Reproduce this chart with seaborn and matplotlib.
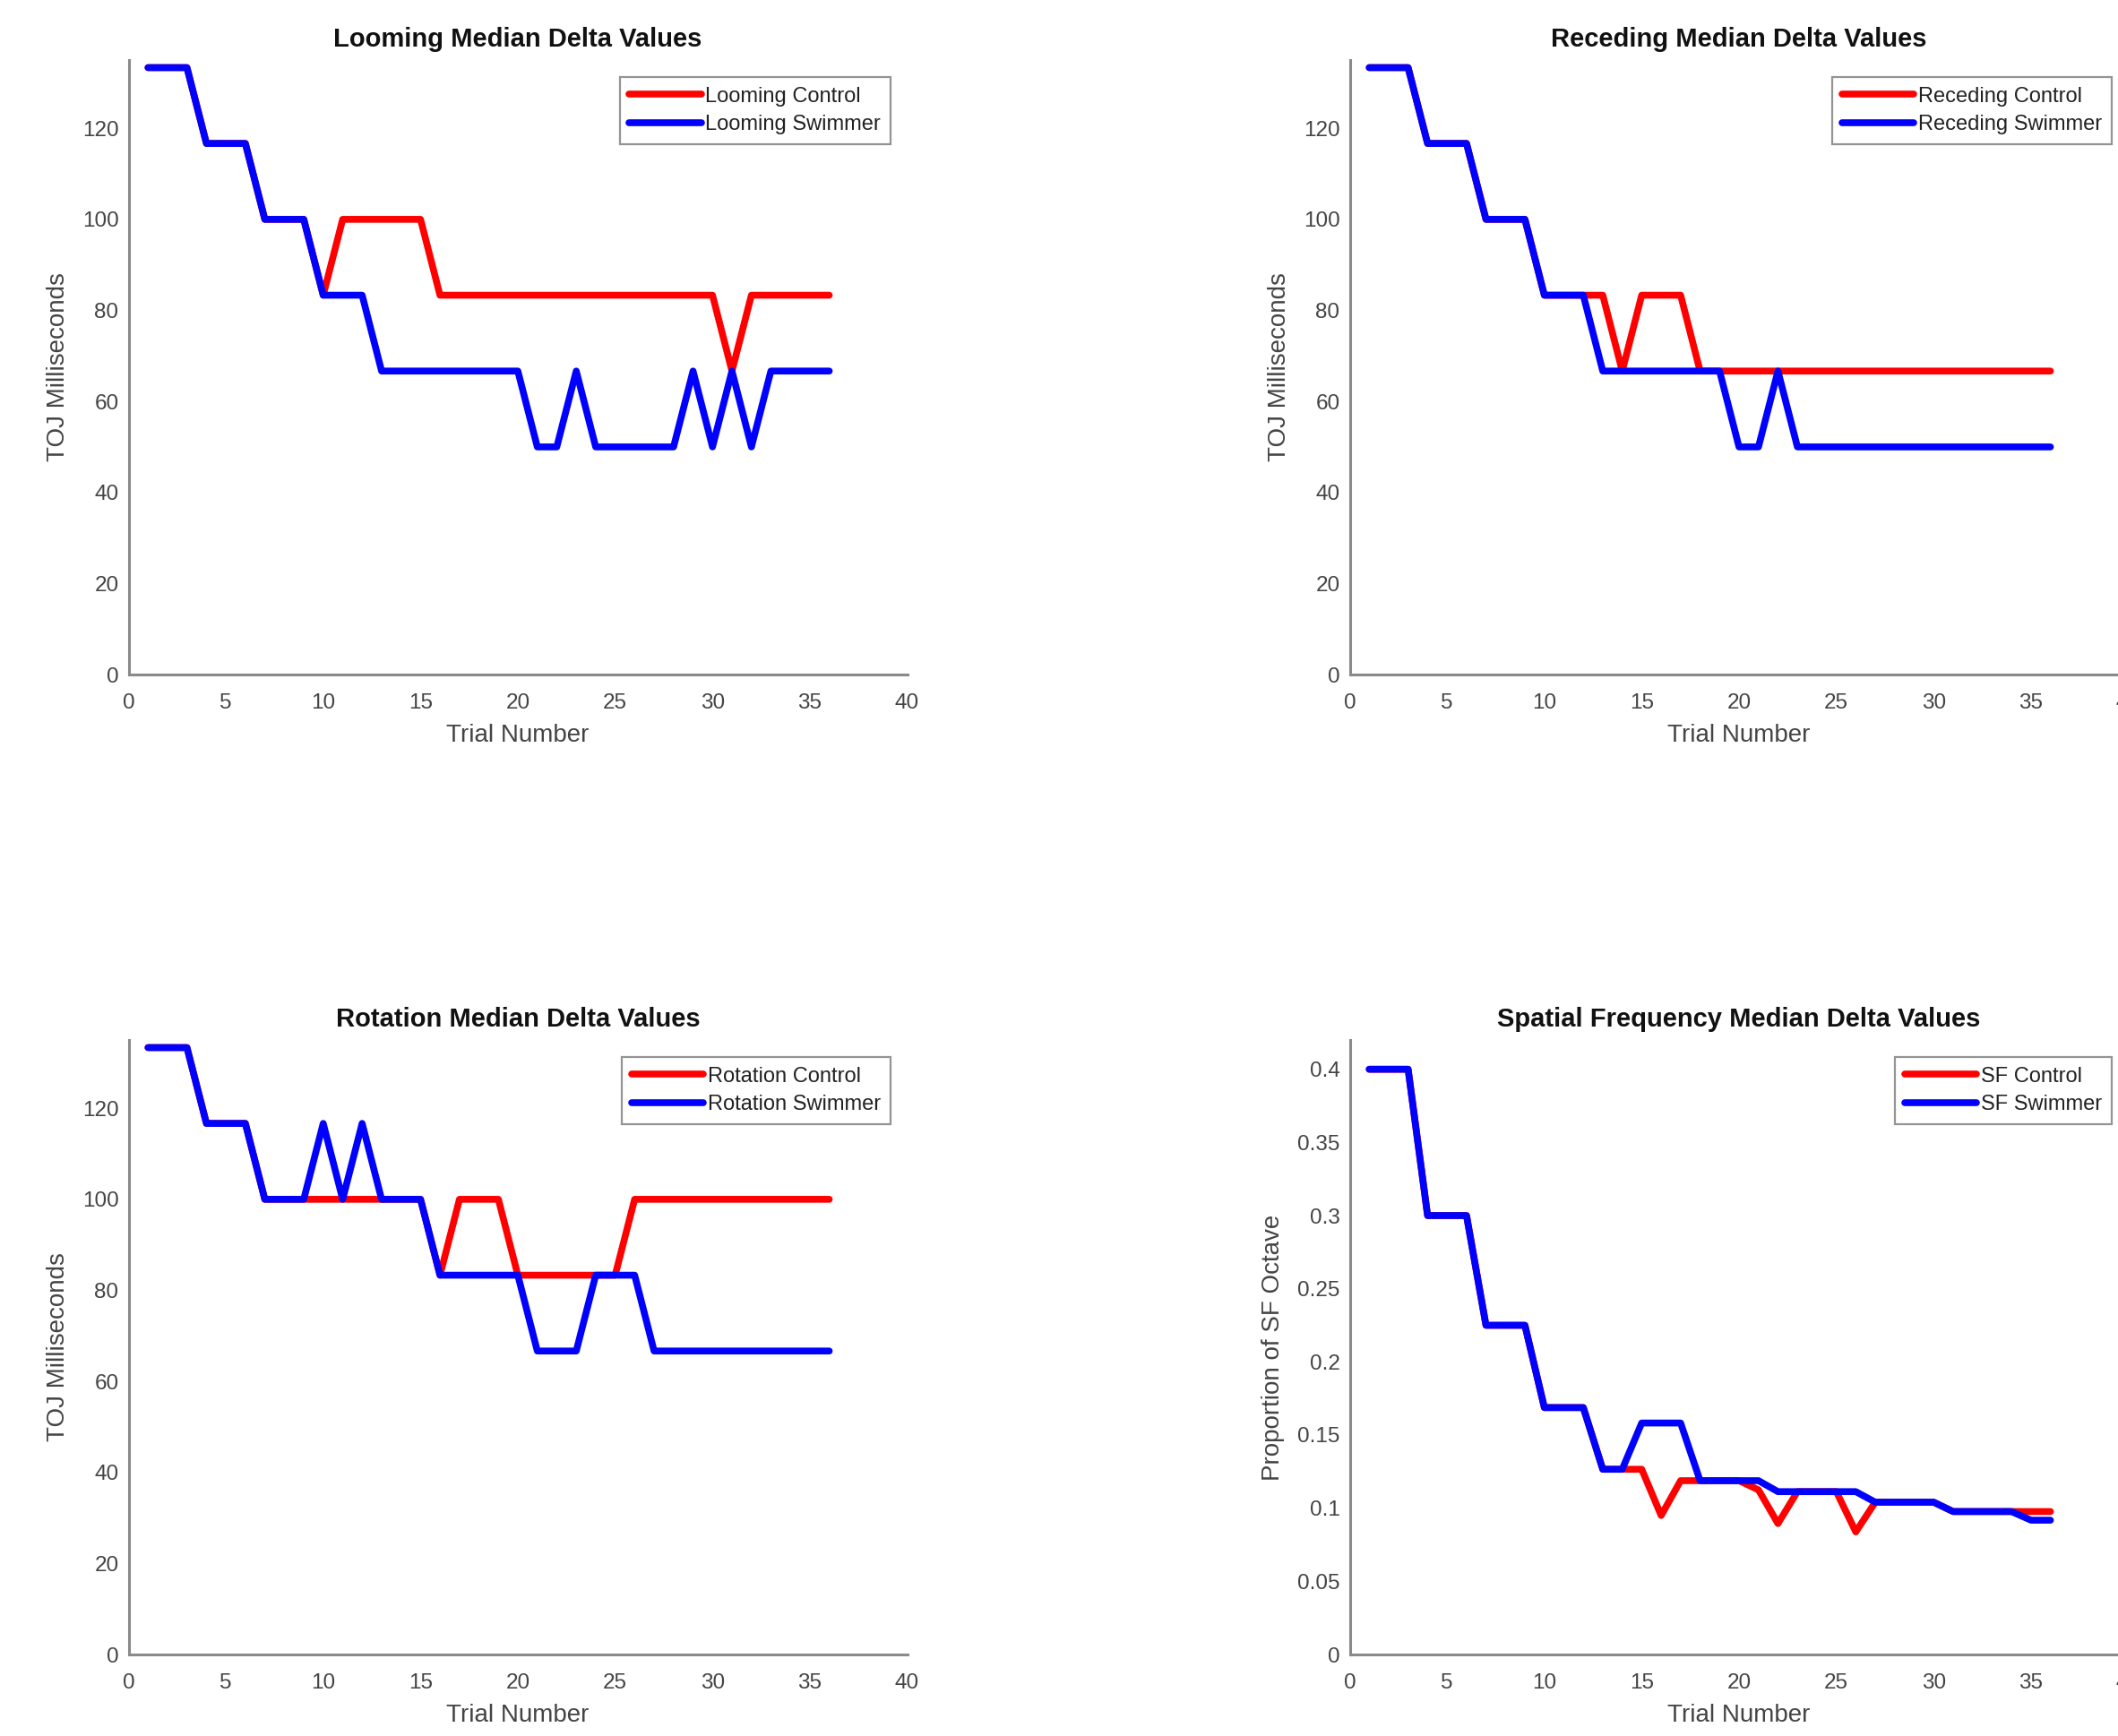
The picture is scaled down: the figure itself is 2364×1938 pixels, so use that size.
import numpy as np
import seaborn as sns
import matplotlib.pyplot as plt
from matplotlib.ticker import FormatStrFormatter

sns.set_style("white")
plt.rcParams['font.family'] = ['Liberation Sans', 'DejaVu Sans']

# trial numbers
trials = list(range(1, 37))

# TOJ values (ms)
a, b, c, d, e, f = 133.33, 116.67, 100.0, 83.33, 66.67, 50.0

looming_control = [a]*3 + [b]*3 + [c]*3 + [d] + [c]*5 + [d]*15 + [e] + [d]*5
looming_swimmer = ([a]*3 + [b]*3 + [c]*3 + [d]*3 + [e]*8 + [f]*2 + [e] + [f]*5
                   + [e] + [f] + [e] + [f] + [e]*4)

receding_control = [a]*3 + [b]*3 + [c]*3 + [d]*4 + [e] + [d]*3 + [e]*19
receding_swimmer = [a]*3 + [b]*3 + [c]*3 + [d]*3 + [e]*7 + [f]*2 + [e] + [f]*14

rotation_control = [a]*3 + [b]*3 + [c]*9 + [d] + [c]*3 + [d]*6 + [c]*11
rotation_swimmer = ([a]*3 + [b]*3 + [c]*3 + [b] + [c] + [b] + [c]*3 + [d]*5
                    + [e]*3 + [d]*3 + [e]*10)

# spatial frequency (proportion of octave)
sf_control = ([0.4]*3 + [0.3]*3 + [0.225]*3 + [0.16875]*3 + [0.1266]*3 + [0.095]
              + [0.1188]*4 + [0.1125] + [0.0895] + [0.1113]*3 + [0.0838]
              + [0.1041]*4 + [0.0977]*6)
sf_swimmer = ([0.4]*3 + [0.3]*3 + [0.225]*3 + [0.16875]*3 + [0.1266]*2 + [0.1582]*3
              + [0.1188]*4 + [0.1113]*5 + [0.1041]*4 + [0.0977]*4 + [0.0918]*2)

panels = [
    ("Looming Median Delta Values", "TOJ Milliseconds", looming_control, looming_swimmer,
     "Looming Control", "Looming Swimmer", 135, np.arange(0, 121, 20)),
    ("Receding Median Delta Values", "TOJ Milliseconds", receding_control, receding_swimmer,
     "Receding Control", "Receding Swimmer", 135, np.arange(0, 121, 20)),
    ("Rotation Median Delta Values", "TOJ Milliseconds", rotation_control, rotation_swimmer,
     "Rotation Control", "Rotation Swimmer", 135, np.arange(0, 121, 20)),
    ("Spatial Frequency Median Delta Values", "Proportion of SF Octave", sf_control, sf_swimmer,
     "SF Control", "SF Swimmer", 0.42, np.arange(0, 0.41, 0.05)),
]

W, H = 2364, 1938
fig = plt.figure(figsize=(W / 100, H / 100), dpi=100)
lefts = [143.5 / W, 1506.5 / W]
bottoms = [1 - 753 / H, 1 - 1847 / H]
aw = 869 / W
ah = 686 / H

axis_col = '#8a8a8a'
text_col = '#444444'

for i, (title, ylab, ctrl, swim, lc, ls, ymax, yt) in enumerate(panels):
    ax = fig.add_axes([lefts[i % 2], bottoms[i // 2], aw, ah])
    sns.lineplot(x=trials, y=ctrl, color='red', lw=5.5, label=lc, ax=ax)
    sns.lineplot(x=trials, y=swim, color='blue', lw=5.5, label=ls, ax=ax)
    ax.set_xlim(0, 40)
    ax.set_ylim(0, ymax)
    ax.set_xticks(range(0, 41, 5))
    ax.set_yticks(yt)
    if ymax < 1:
        ax.yaxis.set_major_formatter(FormatStrFormatter('%g'))
    for s in ['top', 'right']:
        ax.spines[s].set_visible(False)
    for s in ['left', 'bottom']:
        ax.spines[s].set_color(axis_col)
        ax.spines[s].set_linewidth(2.2)
    ax.tick_params(direction='in', length=7, width=1.5, color=axis_col,
                   labelsize=17.5, labelcolor=text_col, pad=8)
    ax.tick_params(axis='x', pad=15)
    ax.set_xlabel("Trial Number", fontsize=20, color=text_col, labelpad=9)
    ax.set_ylabel(ylab, fontsize=20, color=text_col, labelpad=10)
    ax.set_title(title, fontsize=21, fontweight='bold', color='#111111', pad=11)
    leg = ax.legend(loc='upper right', fontsize=17, frameon=True, fancybox=False,
                    handlelength=3.4, handletextpad=0.2, borderpad=0.45,
                    labelspacing=0.4, borderaxespad=0.8)
    leg.get_frame().set_edgecolor('#7a7a7a')
    leg.get_frame().set_linewidth(1.6)
    for t in leg.get_texts():
        t.set_color('#222222')

fig.savefig("out.png", dpi=100)
